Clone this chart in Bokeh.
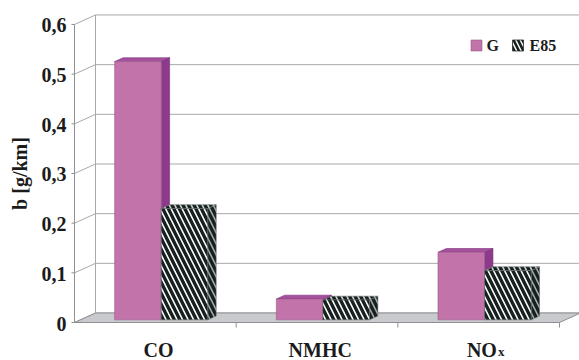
import math
from bokeh.plotting import figure
from bokeh.models import Range1d
from bokeh.core.properties import value
from bokeh.embed import file_html
from bokeh.resources import INLINE

# ---- data -------------------------------------------------------------
categories = ["CO", "NMHC", "NOx"]
cat_main = ["CO", "NMHC", "NO"]      # label text
cat_sub = ["", "", "x"]              # subscript part of the label
series = ["G", "E85"]
g_values = [0.52, 0.042, 0.136]
e85_values = [0.224, 0.040, 0.099]
y_ticks = [0.0, 0.1, 0.2, 0.3, 0.4, 0.5, 0.6]
y_tick_labels = ["0", "0,1", "0,2", "0,3", "0,4", "0,5", "0,6"]
y_title = "b [g/km]"

# ---- page geometry (pixels) -------------------------------------------
W, H = 579, 360
ORIGIN_PX = (74, 322)    # front-left corner of the floor
CAT_PX = 161.67          # pixels per category on the front plane
VAL_PX = 496.7           # pixels per unit of b on the front plane


def dx_px(px):
    """Horizontal pixel distance -> category units."""
    return px / CAT_PX


def dy_px(px):
    """Vertical pixel distance -> value units."""
    return px / VAL_PX


def at_x(px):
    return dx_px(px - ORIGIN_PX[0])


def at_y(py):
    return dy_px(ORIGIN_PX[1] - py)


DX = dx_px(21)           # wall depth, x component
DY = dy_px(9.5)          # wall depth, y component
BAR_W = 0.288            # bar width in category units
F0, F1 = 0.28, 0.68      # bar front / back as fraction of wall depth
N = len(categories)
Y_MAX = max(y_ticks)

SERIF = value("Liberation Serif")
INK = "#1b1b1b"
GRID = "#a9a9a9"
EDGE = "#8f8f8f"

p = figure(width=W, height=H,
           x_range=Range1d(at_x(0), at_x(W)),
           y_range=Range1d(at_y(H), at_y(0)),
           x_axis_type=None, y_axis_type=None,
           output_backend="svg", toolbar_location=None,
           min_border=0)
p.outline_line_color = None
p.grid.visible = False
p.background_fill_color = "white"
p.border_fill_color = "white"

# back wall gridlines and the diagonals on the (invisible) left wall
nt = len(y_ticks)
p.segment(x0=[DX] * nt, y0=[t + DY for t in y_ticks],
          x1=[N + DX] * nt, y1=[t + DY for t in y_ticks],
          line_color=GRID, line_width=1)
p.segment(x0=[0] * nt, y0=y_ticks, x1=[DX] * nt, y1=[t + DY for t in y_ticks],
          line_color=GRID, line_width=1)
p.segment(x0=[DX], y0=[DY], x1=[DX], y1=[Y_MAX + DY],
          line_color=GRID, line_width=1)

# floor
p.patch([0, N, N + DX, DX], [0, 0, DY, DY],
        fill_color="#c9cacd", line_color=EDGE, line_width=1)

# category separators below the front edge
p.segment(x0=list(range(1, N + 1)), y0=[0] * N,
          x1=list(range(1, N + 1)), y1=[-dy_px(5)] * N,
          line_color=EDGE, line_width=1)

# value axis: line, outward ticks, labels, title
p.segment(x0=[0], y0=[0], x1=[0], y1=[Y_MAX], line_color=EDGE, line_width=1)
p.segment(x0=[0] * nt, y0=y_ticks, x1=[-dx_px(3)] * nt, y1=y_ticks,
          line_color=EDGE, line_width=1)
p.text(x=[0] * nt, y=y_ticks, text=y_tick_labels, x_offset=-8, y_offset=1,
       text_font=SERIF, text_font_style="bold", text_font_size="20px",
       text_color=INK, text_align="right", text_baseline="middle")
p.text(x=[at_x(19)], y=[Y_MAX / 2], text=[y_title],
       angle=math.pi / 2, text_font=SERIF, text_font_style="bold",
       text_font_size="20px", text_color=INK,
       text_align="center", text_baseline="middle")


def bar_faces(vals, left):
    """Front, side and top polygons of a row of boxes."""
    front, side, top = ([], []), ([], []), ([], [])
    ax, ay = F0 * DX, F0 * DY
    bx, by = F1 * DX, F1 * DY
    for i, v in enumerate(vals):
        x0 = i + 0.5 + left
        x1 = x0 + BAR_W
        front[0].append([x0 + ax, x1 + ax, x1 + ax, x0 + ax])
        front[1].append([ay, ay, v + ay, v + ay])
        side[0].append([x1 + ax, x1 + bx, x1 + bx, x1 + ax])
        side[1].append([ay, by, v + by, v + ay])
        top[0].append([x0 + ax, x1 + ax, x1 + bx, x0 + bx])
        top[1].append([v + ay, v + ay, v + by, v + by])
    return front, side, top


hatch = dict(hatch_pattern="\\", hatch_color="#16201f",
             hatch_scale=11, hatch_weight=3.4)
G_FRONT = "#c273a9"

# series G (solid magenta boxes)
gf, gs, gt = bar_faces(g_values, -BAR_W)
p.patches(gs[0], gs[1], fill_color="#8d398c", line_color="#7a2f7a", line_width=0.6)
p.patches(gt[0], gt[1], fill_color="#a6519d", line_color="#7a2f7a", line_width=0.6)
p.patches(gf[0], gf[1], fill_color=G_FRONT, line_color="#9a5a8c", line_width=0.6)

# series E85 (hatched boxes)
ef, es, et = bar_faces(e85_values, 0.0)
p.patches(es[0], es[1], fill_color="#a6acac", line_color="#6f7575",
          line_width=0.6, **hatch)
p.patches(et[0], et[1], fill_color="#d3d6d6", line_color="#6f7575",
          line_width=0.6, **hatch)
p.patches(ef[0], ef[1], fill_color="white", line_color="#555b5b",
          line_width=0.6, **hatch)

# category labels under the floor
label_x = [i + 0.52 for i in range(N)]
label_y = [at_y(349)] * N
p.text(x=label_x, y=label_y, text=cat_main,
       text_font=SERIF, text_font_style="bold", text_font_size="20px",
       text_color=INK, text_align="center", text_baseline="middle")
p.text(x=label_x, y=label_y, text=cat_sub, x_offset=16, y_offset=2,
       text_font=SERIF, text_font_style="bold", text_font_size="13px",
       text_color=INK, text_align="left", text_baseline="middle")

# legend (top right)
LEG_Y = at_y(45)
p.rect(x=[at_x(476)], y=[LEG_Y], width=11, height=11,
       width_units="screen", height_units="screen",
       fill_color=G_FRONT, line_color="#9a5a8c", line_width=0.6)
p.rect(x=[at_x(517.5)], y=[LEG_Y], width=11, height=11,
       width_units="screen", height_units="screen",
       fill_color="white", line_color="#2a2a2a", line_width=0.8,
       hatch_pattern="\\", hatch_color="#16201f", hatch_scale=9,
       hatch_weight=2.6)
p.text(x=[at_x(486), at_x(529)], y=[LEG_Y] * 2, text=series,
       text_font=SERIF, text_font_style="bold", text_font_size="16px",
       text_color=INK, text_align="left", text_baseline="middle")

open("out.html", "w").write(file_html(p, INLINE))
